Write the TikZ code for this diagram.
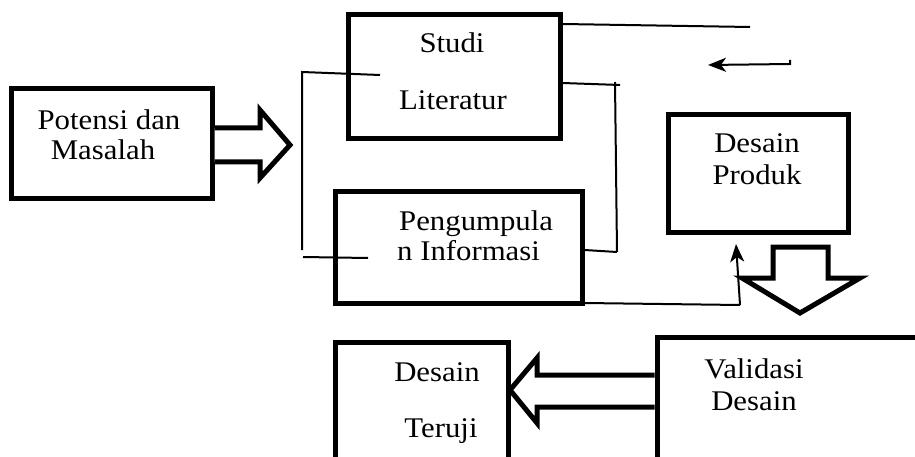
\documentclass[tikz,border=0pt]{standalone}
\usepackage{fontspec}
\setmainfont{Liberation Serif}[FakeStretch=1.08]
\usetikzlibrary{arrows.meta}
\tikzset{
  box/.style={draw=black, line width=5pt, rectangle, inner sep=0pt, fill=white},
  blockarrow/.style={draw=black, line width=5pt, fill=white, line join=miter, miter limit=10},
  thin/.style={draw=black, line width=2pt},
  lbl/.style={anchor=base, inner sep=0pt, font=\fontsize{28.5}{30}\selectfont},
  tip/.style={-{Stealth[length=18pt,width=14pt,inset=5pt]}}
}
\begin{document}
\begin{tikzpicture}[x=1pt,y=-1pt]
\useasboundingbox (0,0) rectangle (915,457);
\clip (0,0) rectangle (915,457);
\fill[white] (0,0) rectangle (915,457);

% boxes
\node[box, minimum width=201pt, minimum height=110pt] (pot) at (111.5,144) {};
\node[box, minimum width=212pt, minimum height=124pt] (stu) at (454,77) {};
\node[box, minimum width=247pt, minimum height=111pt] (pen) at (458.5,247.5) {};
\node[box, minimum width=180pt, minimum height=117pt] (des) at (758,173.5) {};
\node[box, minimum width=173pt, minimum height=150pt] (ter) at (421.5,417) {};
\node[box, minimum width=293pt, minimum height=150pt] (val) at (803.5,412) {};

% labels
\node[lbl] (t1) at (109,130) {Potensi dan};
\node[lbl] (t2) at (103,160) {Masalah};
\node[lbl] (t3) at (452,53) {Studi};
\node[lbl] (t4) at (453,110) {Literatur};
\node[lbl, anchor=base west] (t5) at (399,230) {Pengumpula};
\node[lbl, anchor=base west] (t6) at (397,260) {n Informasi};
\node[lbl] (t7) at (757,153) {Desain};
\node[lbl] (t8) at (757,185) {Produk};
\node[lbl] (t9) at (437,381) {Desain};
\node[lbl] (t10) at (441,437) {Teruji};
\node[lbl] (t11) at (754,378) {Validasi};
\node[lbl] (t12) at (754,410) {Desain};

% block arrows
\draw[blockarrow] (pot.east |- 0,128) -- (260,128) -- (260,110) -- (290,145) -- (260,178) -- (260,162) -- (pot.east |- 0,162);
\draw[blockarrow] (773,247) -- (773,278) -- (742,278) -- (800,313) -- (860,278) -- (828,278) -- (828,247) -- cycle;
\draw[blockarrow] (val.west |- 0,375) -- (537,375) -- (537,358) -- (510,390) -- (537,423) -- (537,407) -- (val.west |- 0,407);

% thin connectors
\coordinate (la) at (380,75);
\coordinate (lb) at (302,72);
\coordinate (lc) at (302,250);
\coordinate (ld) at (303,257);
\coordinate (le) at (368,258);
\draw[thin] (la) -- (lb) -- (lc);
\draw[thin] (ld) -- (le);

\coordinate (ra) at (stu.east |- 0,83);
\coordinate (rb) at (620,85);
\coordinate (rc) at (615,82);
\coordinate (rd) at (617,252);
\coordinate (re) at (pen.east |- 0,250);
\draw[thin] (ra) -- (rb);
\draw[thin] (rc) -- (rd);
\draw[thin] (re) -- (rd);

\coordinate (ta) at (stu.east |- 0,24);
\coordinate (tb) at (750,27);
\draw[thin] (ta) -- (tb);

\coordinate (sa) at (790,60);
\coordinate (sb) at (790,64);
\coordinate (sc) at (708,65);
\draw[thin, tip] (sa) -- (sb) -- (sc);

\coordinate (ba) at (pen.east |- 0,303);
\coordinate (bb) at (740,305);
\coordinate (bc) at (736,244);
\draw[thin] (ba) -- (bb);
\draw[thin, tip] (bb) -- (bc);
\end{tikzpicture}
\end{document}
